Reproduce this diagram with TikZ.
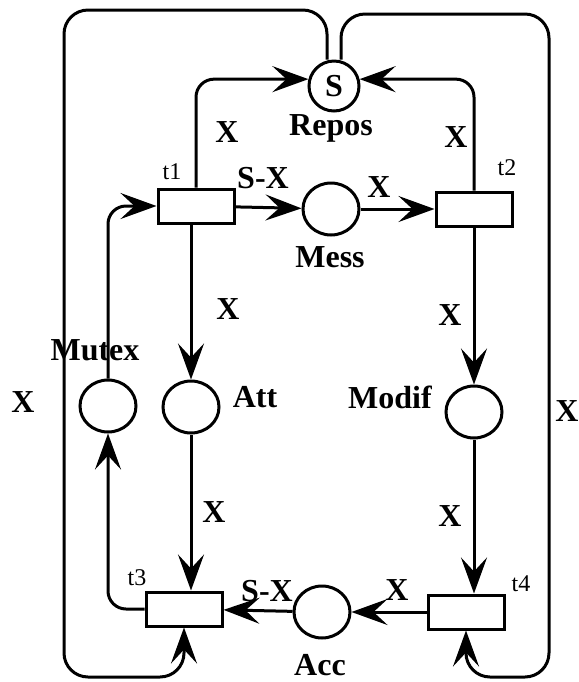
\documentclass[tikz,border=0pt]{standalone}
\usepackage{fontspec}
\setmainfont{Liberation Serif}
\usetikzlibrary{arrows.meta, shapes.geometric}

\begin{document}
\begin{tikzpicture}[x=0.5pt, y=-0.5pt, line width=1.5pt,
  placenode/.style={draw, ellipse, inner sep=0pt, minimum width=28pt, minimum height=26pt},
  transnode/.style={draw, rectangle, inner sep=0pt, minimum width=38pt, minimum height=17pt, fill=white},
  arcline/.style={-{Stealth[length=18pt, width=13pt, inset=7pt]}, rounded corners=9pt},
  wlabel/.style={font=\fontsize{16}{19}\selectfont\bfseries},
  plname/.style={font=\fontsize{16}{19}\selectfont\bfseries},
  trname/.style={font=\fontsize{12}{14}\selectfont}]
  \useasboundingbox (0,0) rectangle (579,682);

  \node[placenode, minimum width=25pt, minimum height=25pt,
        font=\fontsize{16}{19}\selectfont\bfseries] (Repos) at (334,86) {S};
  \foreach \n/\x/\y in {Mess/331/209, Mutex/108/406, Att/191/407, Modif/474/412, Acc/322/612}
    \node[placenode] (\n) at (\x,\y) {};
  \foreach \n/\x/\y in {t1/196/206, t2/474/209, t3/184/609, t4/466/612}
    \node[transnode] (\n) at (\x,\y) {};

  \foreach \n/\x/\y in {Repos/331/128, Mess/330/257, Mutex/95/350, Att/255/397, Modif/390/397, Acc/320/665}
    \node[plname] (l\n) at (\x,\y) {\n};
  \foreach \n/\x/\y in {t1/172/172, t2/507/168, t3/137/578, t4/521/584}
    \node[trname] (l\n) at (\x,\y) {\n};

  \coordinate (lt) at (64,10);
  \coordinate (lb) at (64,677);
  \coordinate (rt) at (549,14);
  \coordinate (rb) at (549,677);

  \draw[arcline, rounded corners=12pt] ([xshift=-3.5pt]Repos.north) |- (lt) -- (lb) -| (t3.south);
  \draw[arcline, rounded corners=12pt] ([xshift=3.5pt]Repos.north) |- (rt) -- (rb) -| (t4.south);
  \draw[arcline] (t1.north) |- (Repos.165);
  \draw[arcline] (t2.north) |- (Repos.15);
  \draw[arcline] (t1) -- (Mess);
  \draw[arcline] (Mess) -- (t2);
  \draw[arcline] (Att.north |- t1.south) -- (Att.north);
  \draw[arcline] (Att.south) -- (Att.south |- t3.north);
  \draw[arcline] (Modif.north |- t2.south) -- (Modif.north);
  \draw[arcline] (Modif.south) -- (Modif.south |- t4.north);
  \draw[arcline] (t4) -- (Acc);
  \draw[arcline] (Acc) -- (t3);
  \draw[arcline] (t3.west) -| (Mutex.south);
  \draw[arcline] (Mutex.north) |- (t1.west);

  \foreach \i/\x/\y/\w in {1/227/132/X, 2/456/137/X, 3/263/178/S-X, 4/379/187/X,
      5/228/309/X, 6/450/315/X, 7/23/402/X, 8/567/411/X,
      9/214/512/X, 10/450/516/X, 11/267/591/S-X, 12/397/590/X}
    \node[wlabel] (w\i) at (\x,\y) {\w};
\end{tikzpicture}
\end{document}
